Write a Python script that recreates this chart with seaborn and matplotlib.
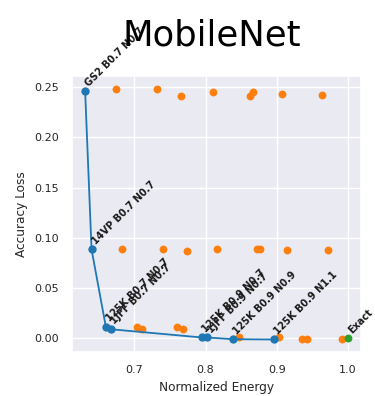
import matplotlib
matplotlib.use("Agg")
import matplotlib.pyplot as plt
import pandas as pd
import seaborn as sns

# All evaluated configurations (energy vs. accuracy loss)
all_energy = [0.675, 0.7315, 0.766, 0.810, 0.8667, 0.863, 0.9067, 0.9636,
              0.6825, 0.740, 0.774, 0.816, 0.872, 0.876, 0.915, 0.9716,
              0.7045, 0.7115, 0.7604, 0.769,
              0.8466, 0.903, 0.935, 0.942, 0.992]
all_loss = [0.2485, 0.2485, 0.2416, 0.2452, 0.2452, 0.2413, 0.2429, 0.2426,
            0.0884, 0.0884, 0.0868, 0.0884, 0.0884, 0.0884, 0.0882, 0.0882,
            0.0116, 0.0089, 0.0116, 0.0089,
            0.0007, 0.0007, -0.001, -0.001, -0.001]

# Pareto-optimal configurations
pareto_labels = ["GS2 B0.7 N0.7", "14VP B0.7 N0.7", "125K B0.7 N0.7",
                 "1JFF B0.7 N0.7", "125K B0.9 N0.7", "1JFF B0.9 N0.7",
                 "125K B0.9 N0.9", "125K B0.9 N1.1"]
pareto_energy = [0.631, 0.640, 0.660, 0.667, 0.795, 0.802, 0.839, 0.896]
pareto_loss = [0.2458, 0.0884, 0.0116, 0.0089, 0.0007, 0.0007, -0.001, -0.0013]

# Exact baseline
exact_label = ["Exact"]
exact_energy = [1.0]
exact_loss = [0.0]

sns.set_theme(style="darkgrid", palette="tab10")
plt.rcParams["font.family"] = ["DejaVu Sans"]

fig = plt.figure(figsize=(3.75, 3.96), dpi=100)
ax = fig.add_axes([0.192, 0.111, 0.771, 0.697])

pal = sns.color_palette("tab10")
df_all = pd.DataFrame({"energy": all_energy, "loss": all_loss})
df_par = pd.DataFrame({"energy": pareto_energy, "loss": pareto_loss})
df_ex = pd.DataFrame({"energy": exact_energy, "loss": exact_loss})

sns.scatterplot(data=df_all, x="energy", y="loss", color=pal[1], s=32,
                linewidth=0, ax=ax, zorder=2)
sns.lineplot(data=df_par, x="energy", y="loss", sort=False, color=pal[0],
             marker="o", markersize=6, markeredgewidth=0, linewidth=1.3,
             ax=ax, zorder=3)
sns.scatterplot(data=df_ex, x="energy", y="loss", color=pal[2], s=32,
                linewidth=0, ax=ax, zorder=3)

for lab, x, y in zip(pareto_labels + exact_label,
                     pareto_energy + exact_energy,
                     pareto_loss + exact_loss):
    ax.annotate(lab, (x, y), xytext=(3, 3), textcoords="offset points",
                rotation=45, rotation_mode="anchor", ha="left", va="baseline",
                fontsize=7, fontweight="bold", color="#1a1a1a",
                annotation_clip=False)

ax.set_xlabel("Normalized Energy", fontsize=8.7)
ax.set_ylabel("Accuracy Loss", fontsize=8.7)
ax.tick_params(labelsize=8)
ax.set_xticks([0.7, 0.8, 0.9, 1.0])
ax.set_yticks([0.0, 0.05, 0.10, 0.15, 0.20, 0.25])
ax.set_title("MobileNet", fontsize=25.5, pad=22, color="black", x=0.483)

fig.savefig("out.png", dpi=100)
